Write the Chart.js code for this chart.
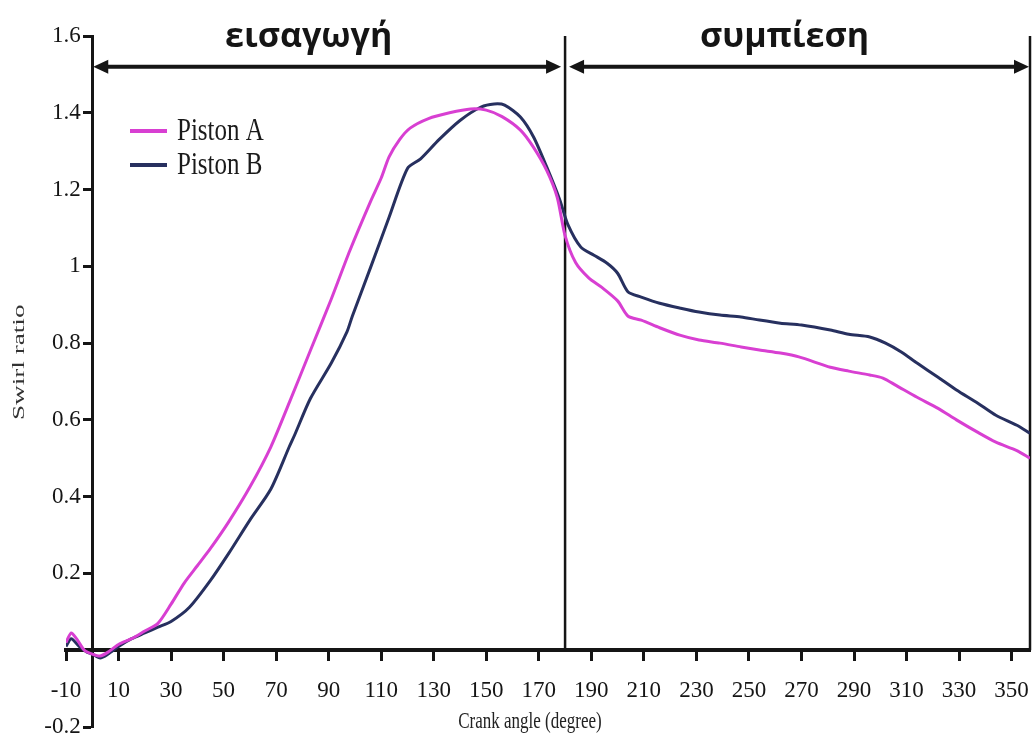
<!DOCTYPE html>
<html>
<head>
<meta charset="utf-8">
<title>Swirl ratio</title>
<script src="https://cdn.jsdelivr.net/npm/chart.js@4"></script>
<style>
  html, body { margin: 0; padding: 0; background: #fff; }
  canvas { display: block; }
</style>
</head>
<body>
<canvas id="swirl" width="1034" height="742"></canvas>
<script>
// crank angle (deg) and swirl ratio for each piston
const angleA = [-10, -8, -6, -3, 0, 3, 6, 10, 15, 20, 25, 30, 35, 40, 45, 52, 60, 68, 75, 83,
  91, 98, 106, 110, 113, 117, 121, 128, 136, 144, 150, 156, 163, 168, 173, 177, 180, 184, 189, 194,
  200, 204, 209, 216, 224, 231, 239, 247, 254, 262, 269, 281, 288, 296, 301, 306, 314, 322, 329, 337,
  344, 352, 357];
const swirlA = [0.02, 0.045, 0.03, 0.0, -0.01, -0.015, -0.005, 0.015, 0.03, 0.05, 0.07, 0.12, 0.175, 0.22, 0.265, 0.335, 0.425, 0.53, 0.645, 0.78,
  0.915, 1.04, 1.17, 1.23, 1.285, 1.33, 1.36, 1.385, 1.40, 1.41, 1.407, 1.39, 1.355, 1.31, 1.25, 1.18, 1.08, 1.01, 0.97, 0.945,
  0.91, 0.87, 0.86, 0.84, 0.82, 0.808, 0.80, 0.79, 0.782, 0.774, 0.764, 0.737, 0.727, 0.717, 0.709, 0.69, 0.659, 0.63, 0.60, 0.568,
  0.542, 0.52, 0.50];

const angleB = [-10, -8, -5, -2, 0, 3, 6, 10, 15, 20, 25, 30, 37, 45, 52, 60, 68, 75, 77, 83,
  91, 97, 99, 106, 113, 120, 125, 132, 140, 148, 153, 157, 163, 168, 173, 178, 181, 186, 191, 196,
  200, 204, 209, 216, 224, 231, 239, 247, 254, 262, 270, 281, 288, 296, 302, 308, 314, 322, 329, 337,
  344, 352, 357];
const swirlB = [0.01, 0.03, 0.01, -0.005, -0.01, -0.02, -0.01, 0.01, 0.03, 0.045, 0.06, 0.075, 0.112, 0.182, 0.253, 0.339, 0.42, 0.53, 0.56, 0.655,
  0.748, 0.83, 0.87, 0.998, 1.128, 1.255, 1.28, 1.33, 1.38, 1.415, 1.423, 1.42, 1.389, 1.337, 1.259, 1.173, 1.11, 1.05, 1.029, 1.008,
  0.982, 0.933, 0.92, 0.904, 0.891, 0.881, 0.873, 0.868, 0.86, 0.852, 0.847, 0.834, 0.823, 0.816, 0.80, 0.777, 0.748, 0.711, 0.678, 0.644,
  0.612, 0.586, 0.565];

const seriesNames = ['Piston A', 'Piston B'];
const xTicks = [-10, 10, 30, 50, 70, 90, 110, 130, 150, 170, 190, 210, 230, 250, 270, 290, 310, 330, 350];
const yTicks = [-0.2, 0, 0.2, 0.4, 0.6, 0.8, 1, 1.2, 1.4, 1.6];

// intake / compression strokes
const phaseNames = ['εισαγωγή', 'συμπίεση'];
const phaseEdges = [0, 180, 357];
const arrowLevel = 1.52;

const serif = "'Liberation Serif', 'Times New Roman', serif";
const ink = '#151515';

function toPoints(xs, ys) {
  return xs.map((a, i) => ({ x: a, y: ys[i] }));
}

function arrowHead(ctx, x, y, dir) {
  ctx.beginPath();
  ctx.moveTo(x, y);
  ctx.lineTo(x - dir * 15, y - 7);
  ctx.lineTo(x - dir * 15, y + 7);
  ctx.closePath();
  ctx.fill();
}

// serif labels are drawn a little taller than wide
function tallText(ctx, text, x, y, sy) {
  ctx.save();
  ctx.translate(x, y);
  ctx.scale(1, sy);
  ctx.fillText(text, 0, 0);
  ctx.restore();
}

// axes sit on x = 0 and y = 0, so no extra room for end labels
function noEdgePadding(s) {
  s.paddingLeft = 0;
  s.paddingRight = 0;
  s.paddingTop = 0;
  s.paddingBottom = 0;
}

const strokeMarks = {
  id: 'strokeMarks',
  beforeDatasetsDraw(chart) {
    const { ctx, scales: { x, y } } = chart;
    const top = y.getPixelForValue(1.6);
    const base = y.getPixelForValue(0);
    ctx.save();
    ctx.strokeStyle = ink;
    ctx.lineWidth = 2.5;
    [phaseEdges[1], phaseEdges[2]].forEach(v => {
      const px = Math.min(x.getPixelForValue(v), chart.width - 3);
      ctx.beginPath();
      ctx.moveTo(px, top);
      ctx.lineTo(px, base);
      ctx.stroke();
    });
    ctx.restore();
  },
  afterDraw(chart) {
    const { ctx, chartArea, scales: { x, y } } = chart;
    const ay = y.getPixelForValue(arrowLevel);
    ctx.save();
    ctx.strokeStyle = ink;
    ctx.fillStyle = ink;
    ctx.lineWidth = 4;

    // phase arrows and names
    for (let i = 0; i < phaseNames.length; i++) {
      const x0 = x.getPixelForValue(phaseEdges[i]) + (i === 0 ? 1 : 4);
      const x1 = Math.min(x.getPixelForValue(phaseEdges[i + 1]), chart.width - 4) - (i === 0 ? 4 : 1);
      ctx.beginPath();
      ctx.moveTo(x0 + 6, ay);
      ctx.lineTo(x1 - 6, ay);
      ctx.stroke();
      arrowHead(ctx, x0, ay, -1);
      arrowHead(ctx, x1, ay, 1);

      const mid = x.getPixelForValue((phaseEdges[i] + phaseEdges[i + 1]) / 2) - 20 + i * 7;
      ctx.font = "bold 34px 'Open Sans', 'Noto Sans', sans-serif";
      ctx.textAlign = 'center';
      ctx.textBaseline = 'alphabetic';
      ctx.fillText(phaseNames[i], mid, ay - 20);
    }

    // legend
    const lx = chartArea.left + 64;
    chart.data.datasets.forEach((ds, i) => {
      const ly = chartArea.top + 95 + i * 34;
      ctx.strokeStyle = ds.borderColor;
      ctx.lineWidth = 4;
      ctx.beginPath();
      ctx.moveTo(lx, ly);
      ctx.lineTo(lx + 37, ly);
      ctx.stroke();
      ctx.fillStyle = '#1a1a1a';
      ctx.font = '25px ' + serif;
      ctx.textAlign = 'left';
      ctx.textBaseline = 'middle';
      tallText(ctx, ds.label, lx + 47, ly + 1, 1.25);
    });

    // axis titles
    ctx.fillStyle = '#222';
    ctx.font = '17px ' + serif;
    ctx.textAlign = 'center';
    ctx.textBaseline = 'middle';
    tallText(ctx, 'Crank angle (degree)', chartArea.left + 464, chartArea.bottom - 5, 1.3);

    ctx.save();
    ctx.translate(chartArea.left - 46, y.getPixelForValue(0.75));
    ctx.rotate(-Math.PI / 2);
    ctx.scale(1.7, 1.05);
    ctx.fillStyle = '#333';
    ctx.font = '16px ' + serif;
    ctx.fillText('Swirl ratio', 0, 0);
    ctx.restore();

    ctx.restore();
  }
};

const tickFont = { family: serif, size: 23 };

new Chart(document.getElementById('swirl'), {
  type: 'line',
  data: {
    datasets: [{
      label: seriesNames[0],
      data: toPoints(angleA, swirlA),
      borderColor: '#d83fd2',
      borderWidth: 3,
      pointRadius: 0,
      tension: 0.25
    }, {
      label: seriesNames[1],
      data: toPoints(angleB, swirlB),
      borderColor: '#27305f',
      borderWidth: 3,
      pointRadius: 0,
      tension: 0.25
    }]
  },
  options: {
    responsive: false,
    animation: false,
    devicePixelRatio: 1,
    layout: { padding: { left: 66, right: 4, top: 36, bottom: 15 } },
    plugins: { legend: { display: false }, tooltip: { enabled: false } },
    scales: {
      x: {
        type: 'linear',
        min: -10,
        max: 357,
        position: { y: 0 },
        afterBuildTicks: s => { s.ticks = xTicks.map(v => ({ value: v })); },
        afterFit: noEdgePadding,
        ticks: { font: tickFont, color: ink, padding: 18, maxRotation: 0, autoSkip: false },
        grid: { drawOnChartArea: false, tickLength: 9, tickWidth: 3, tickColor: ink },
        border: { color: ink, width: 4 }
      },
      y: {
        type: 'linear',
        min: -0.2,
        max: 1.6,
        position: { x: 0 },
        afterBuildTicks: s => { s.ticks = yTicks.map(v => ({ value: v })); },
        afterFit: noEdgePadding,
        ticks: {
          font: tickFont,
          color: ink,
          autoSkip: false,
          // label sits left of the tick mark
          callback: v => (v === 0 ? '' : String(v) + '\u2002')
        },
        grid: { drawOnChartArea: false, tickLength: 8, tickWidth: 3, tickColor: ink },
        border: { color: ink, width: 3 }
      }
    }
  },
  plugins: [strokeMarks]
});
</script>
</body>
</html>
